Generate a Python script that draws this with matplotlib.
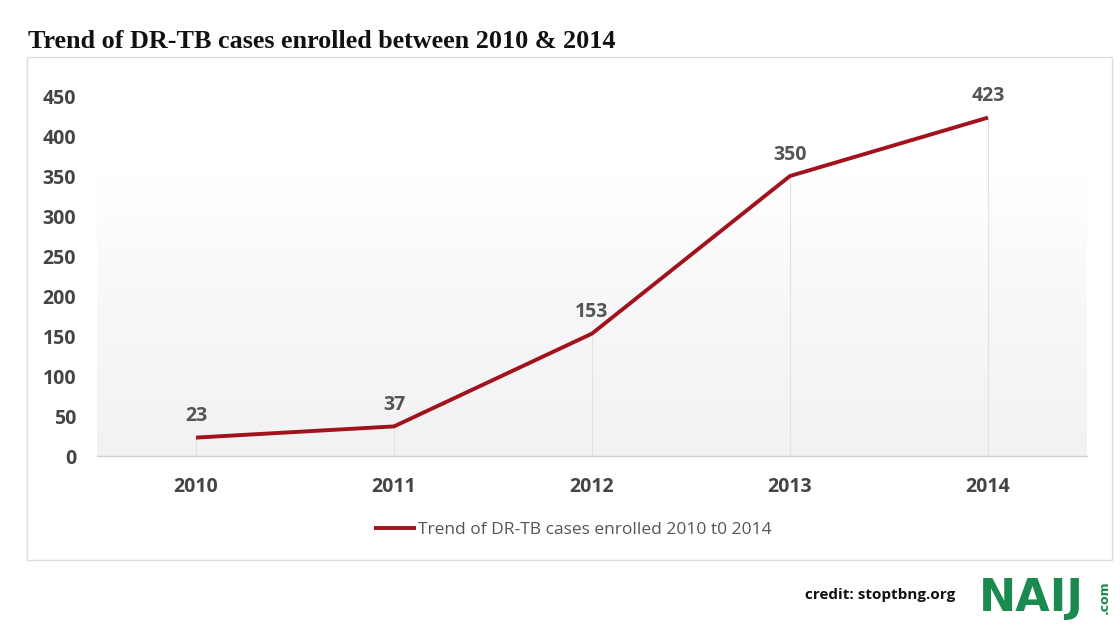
import matplotlib.pyplot as plt
import matplotlib.patches as mpatches
from matplotlib.colors import LinearSegmentedColormap
import numpy as np

years = ['2010', '2011', '2012', '2013', '2014']
cases = [23, 37, 153, 350, 423]
yticks = [0, 50, 100, 150, 200, 250, 300, 350, 400, 450]

W, H = 1120, 629
fig = plt.figure(figsize=(W / 100, H / 100), dpi=100)
fig.patch.set_facecolor('white')

def fx(px):
    return px / W

def fy(py):
    return 1 - py / H

# outer frame of the chart
fig.patches.append(mpatches.Rectangle((fx(27), fy(560)), fx(1112) - fx(27), fy(57) - fy(560),
                                      transform=fig.transFigure, fill=False,
                                      edgecolor='#dcdcdc', linewidth=1.0))

ax = fig.add_axes([fx(97), fy(456), fx(1087) - fx(97), fy(96) - fy(456)])
x = np.arange(len(years))
ax.set_xlim(-0.5, len(years) - 0.5)
ax.set_ylim(0, 450)

# very faint grey wash behind the lower part of the plot
grad = np.linspace(0, 1, 256).reshape(-1, 1)
cmap = LinearSegmentedColormap.from_list('g', ['#ffffff', '#f7f7f9', '#f2f2f4'])
ax.imshow(grad, extent=(-0.5, len(years) - 0.5, 0, 350), aspect='auto',
          cmap=cmap, zorder=0)

# drop lines
for xi, v in zip(x, cases):
    ax.plot([xi, xi], [0, v], color='#e2e2e2', linewidth=0.8, zorder=1)

ax.plot(x, cases, color='#a1121c', linewidth=2.8, zorder=3,
        label='Trend of DR-TB cases enrolled 2010 t0 2014', solid_capstyle='butt')

for xi, v in zip(x, cases):
    ax.annotate(str(v), (xi, v), xytext=(0, 8), textcoords='offset points',
                ha='center', va='bottom', fontsize=14, fontweight='bold',
                color='#555555', family='Open Sans')

ax.set_xticks(x)
ax.set_xticklabels(years)
ax.set_yticks(yticks)
for lab in ax.get_xticklabels() + ax.get_yticklabels():
    lab.set_fontfamily('Open Sans')
    lab.set_fontweight('bold')
    lab.set_fontsize(14)
    lab.set_color('#444444')
ax.tick_params(length=0)
ax.tick_params(axis='x', pad=15)
ax.tick_params(axis='y', pad=15)
for s in ['top', 'right', 'left']:
    ax.spines[s].set_visible(False)
ax.spines['bottom'].set_color('#d0d0d0')
ax.spines['bottom'].set_linewidth(1.0)
ax.set_facecolor('white')

leg = fig.legend(loc='center', bbox_to_anchor=(fx(573), fy(530)), frameon=False,
                 handlelength=2.4, handletextpad=0.15,
                 prop={'family': 'Open Sans', 'size': 12.5})
for t in leg.get_texts():
    t.set_color('#555555')

fig.text(fx(28), fy(42), 'Trend of DR-TB cases enrolled between 2010 & 2014',
         family='Liberation Serif', fontweight='bold', fontsize=18.8,
         color='#111111', va='center', ha='left')

fig.text(fx(955), fy(595), 'credit: stoptbng.org', family='Open Sans',
         fontweight='bold', fontsize=11, color='#111111', va='center', ha='right')
fig.text(fx(979), fy(598), 'NAIJ', family='DejaVu Sans', fontweight='bold',
         fontsize=32, color='#1a8a4e', va='center', ha='left')
fig.text(fx(1104), fy(597), '.com', family='DejaVu Sans', fontweight='bold',
         fontsize=9, color='#1a8a4e', va='center', ha='center', rotation=90)

fig.savefig('out.png', dpi=100)
